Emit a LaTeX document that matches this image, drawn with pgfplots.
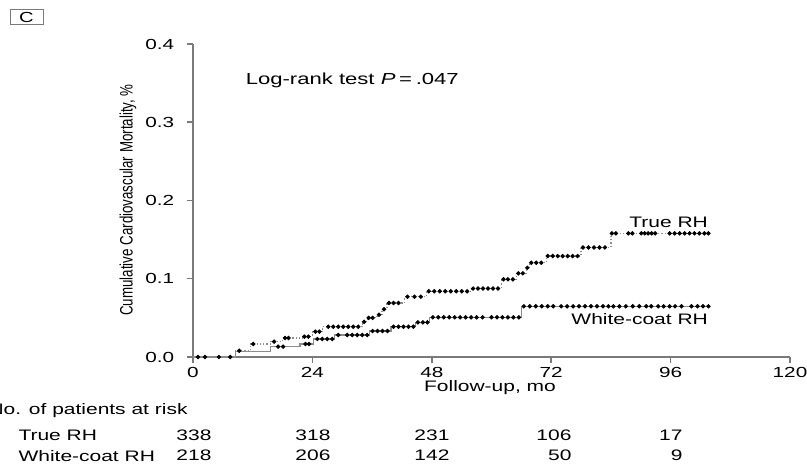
\documentclass[border=0pt]{standalone}
\usepackage{pgfplots}
\pgfplotsset{compat=1.18}
\usepackage{fontspec}
\setmainfont{Liberation Sans}
\definecolor{axgray}{HTML}{7A7A7A}
\definecolor{lngray}{HTML}{8C8C8C}
\begin{document}
\begin{tikzpicture}[font=\fontsize{7.6}{9}\selectfont, wide/.style={xscale=1.38}]
\useasboundingbox (0,0) rectangle (403.5pt,232pt);
\begin{axis}[
  at={(96.5pt,53.5pt)}, anchor=south west,
  scale only axis, width=298.5pt, height=156.5pt,
  xmin=0, xmax=120, ymin=0, ymax=0.4,
  enlargelimits=false, clip=false,
  axis lines=left, axis line style={-, axgray, line width=0.75pt},
  xtick={0,24,48,72,96,120}, ytick={0,0.1,0.2,0.3,0.4},
  tick align=outside, major tick length=3pt,
  tick style={axgray, line width=0.75pt},
  ticklabel style={font=\fontsize{7.3}{9}\selectfont, xscale=1.42},
  yticklabel style={/pgf/number format/fixed, /pgf/number format/fixed zerofill, /pgf/number format/precision=1},
  /pgf/number format/assume math mode=true,
  xticklabel style={yshift=1.5pt},
  yticklabel style={xshift=-1pt},
]
% True RH step curve
\addplot[const plot, lngray, densely dotted, line width=0.6pt] coordinates {
(0,0)(8.5,0.008)(11.5,0.0166)(15.5,0.0196)(18,0.0243)(22,0.026)(24,0.0323)(26,0.0387)(34,0.045)(35,0.050)(37,0.054)(38,0.061)(39,0.069)(42.5,0.077)(47,0.084)(56,0.0875)(62,0.0993)(65,0.107)(67,0.114)(67.7,0.1205)(71,0.129)(78,0.140)(84,0.158)(103.6,0.158)
};
% White-coat RH step curve
\addplot[const plot, lngray, line width=0.6pt] coordinates {
(0,0)(8.5,0.0068)(15.5,0.0132)(21.5,0.0166)(24.2,0.023)(28.5,0.0281)(35.5,0.0332)(39.8,0.0387)(44.8,0.0443)(47.5,0.0507)(66,0.0648)(103.6,0.0648)
};
% True RH censor marks
\addplot[only marks, mark=*, mark size=0.9pt, black] coordinates {
(1,0)(2.4,0)(5.2,0)(7.5,0)
(9.3,0.008)(12.1,0.0166)(16.3,0.0196)(18.5,0.0243)(19.2,0.0243)(22.4,0.026)(23.2,0.026)
(24.6,0.0323)(25.4,0.0323)
(27.2,0.0387)(28.2,0.0387)(29.2,0.0387)(30.2,0.0387)(31.2,0.0387)(32.2,0.0387)(33.2,0.0387)
(34.4,0.045)(35.3,0.050)(36.1,0.050)(37.4,0.054)(38.4,0.061)
(39.4,0.069)(40.3,0.069)(41.3,0.069)
(43.1,0.077)(44.5,0.077)(45.8,0.077)
(47.4,0.084)(48.5,0.084)(49.6,0.084)(50.7,0.084)(51.8,0.084)(52.9,0.084)(54.0,0.084)(55.1,0.084)
(56.3,0.0875)(57.3,0.0875)(58.3,0.0875)(59.3,0.0875)(60.3,0.0875)(61.3,0.0875)
(62.4,0.0993)(63.3,0.0993)(64.3,0.0993)
(65.4,0.107)(66.3,0.107)(67.2,0.114)
(68.0,0.1205)(69.0,0.1205)(70.0,0.1205)
(71.3,0.129)(72.3,0.129)(73.3,0.129)(74.3,0.129)(75.3,0.129)(76.3,0.129)(77.3,0.129)
(78.4,0.140)(79.5,0.140)(80.6,0.140)(81.7,0.140)(82.8,0.140)
(84.2,0.158)(85.0,0.158)(87.5,0.158)(88.3,0.158)
(90.1,0.158)(90.8,0.158)(91.5,0.158)(92.2,0.158)(92.9,0.158)
(95.8,0.158)(96.8,0.158)(97.8,0.158)(98.8,0.158)(99.8,0.158)(100.8,0.158)(101.8,0.158)(102.8,0.158)(103.6,0.158)
};
% White-coat RH censor marks
\addplot[only marks, mark=*, mark size=0.9pt, black] coordinates {
(17.1,0.0132)(18.1,0.0132)(22.6,0.0166)(23.3,0.0166)
(25.0,0.023)(26.0,0.023)(27.0,0.023)(28.0,0.023)
(29.2,0.0281)(31.0,0.0281)(32.0,0.0281)(33.0,0.0281)(34.0,0.0281)(35.0,0.0281)
(36.1,0.0332)(37.1,0.0332)(38.1,0.0332)(39.1,0.0332)
(40.3,0.0387)(41.3,0.0387)(42.3,0.0387)(43.3,0.0387)(44.3,0.0387)
(45.2,0.0443)(46.2,0.0443)(47.1,0.0443)
(48.2,0.0507)(49.3,0.0507)(50.4,0.0507)(51.5,0.0507)(52.6,0.0507)(53.7,0.0507)(54.8,0.0507)(55.9,0.0507)(57.0,0.0507)(58.2,0.0507)
(60.0,0.0507)(61.1,0.0507)(62.2,0.0507)(63.3,0.0507)(64.4,0.0507)(65.5,0.0507)
(66.5,0.0648)(67.7,0.0648)(68.9,0.0648)(70.1,0.0648)(71.3,0.0648)(72.4,0.0648)
(74.0,0.0648)(75.2,0.0648)(76.4,0.0648)(77.6,0.0648)(78.8,0.0648)(80.0,0.0648)(81.2,0.0648)(82.4,0.0648)(83.5,0.0648)(84.5,0.0648)
(85.7,0.0648)(87.0,0.0648)(88.4,0.0648)(89.7,0.0648)
(91.1,0.0648)(92.1,0.0648)
(93.5,0.0648)(94.6,0.0648)(95.8,0.0648)(96.9,0.0648)(98.2,0.0648)
(100.2,0.0648)(101.4,0.0648)(102.5,0.0648)(103.6,0.0648)
};
\node[anchor=west, inner sep=0pt, wide] at (axis cs:10.5,0.353) {\fontsize{8}{9}\selectfont Log-rank test \textit{P}\,=\,.047};
\node[anchor=east, inner sep=0pt, wide] at (axis cs:103.6,0.1725) {True RH};
\node[anchor=east, inner sep=0pt, wide] at (axis cs:103.6,0.0486) {White-coat RH};
\end{axis}
% panel label
\draw[axgray, line width=0.5pt] (5pt,219.5pt) rectangle (21.5pt,227pt);
\node[inner sep=0pt, wide] at (13.25pt,223.25pt) {\fontsize{7.3}{9}\selectfont C};
% y label
\node[rotate=90] at (64pt,132pt) {\fontsize{9}{10}\selectfont\scalebox{0.74}[1]{Cumulative Cardiovascular Mortality, \%}};
% x label
\node[wide] at (245pt,38pt) {Follow-up, mo};
% risk table
\node[anchor=west, inner sep=0pt, wide] at (-6pt,26.5pt) {No. of patients at risk};
\node[anchor=west, inner sep=0pt, wide] at (9pt,14.2pt) {True RH};
\node[anchor=west, inner sep=0pt, wide] at (9pt,4.2pt) {White-coat RH};
\foreach \x/\a/\b in {106/338/218, 165.5/318/206, 225/231/142, 286/106/50, 341.5/17/9}{
  \node[anchor=east, inner sep=0pt, wide] at (\x pt,14.2pt) {\a};
  \node[anchor=east, inner sep=0pt, wide] at (\x pt,4.2pt) {\b};
}
\end{tikzpicture}
\end{document}
